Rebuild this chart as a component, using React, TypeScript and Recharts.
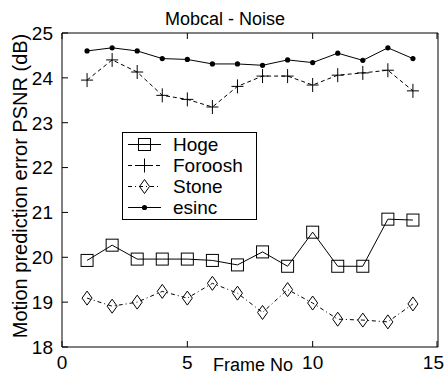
import { LineChart, Line, XAxis, YAxis, Legend } from 'recharts';

const frames = [1, 2, 3, 4, 5, 6, 7, 8, 9, 10, 11, 12, 13, 14];
const hoge = [19.93, 20.27, 19.96, 19.96, 19.96, 19.93, 19.83, 20.12, 19.8, 20.56, 19.8, 19.8, 20.85, 20.83];
const foroosh = [23.95, 24.4, 24.13, 23.61, 23.52, 23.35, 23.81, 24.04, 24.04, 23.84, 24.06, 24.11, 24.17, 23.71];
const stone = [19.09, 18.91, 19.0, 19.24, 19.09, 19.42, 19.2, 18.77, 19.28, 18.98, 18.62, 18.6, 18.56, 18.96];
const esinc = [24.6, 24.67, 24.6, 24.43, 24.41, 24.31, 24.31, 24.28, 24.4, 24.34, 24.55, 24.39, 24.67, 24.43];

const xTicks = [0, 5, 10, 15];
const yTicks = [18, 19, 20, 21, 22, 23, 24, 25];
const seriesNames = ['Hoge', 'Foroosh', 'Stone', 'esinc'];

const data = frames.map((f, i) => ({
  frame: f,
  hoge: hoge[i],
  foroosh: foroosh[i],
  stone: stone[i],
  esinc: esinc[i],
}));

const FONT = '"Liberation Sans", Arial, sans-serif';
const TICK_LEN = 6;
const CHART_W = 445;

const square = (cx: number, cy: number) => (
  <rect x={cx - 6} y={cy - 6} width={12} height={12} fill="none" stroke="#000" strokeWidth={1} />
);
const plus = (cx: number, cy: number) => (
  <path d={`M${cx - 6},${cy}H${cx + 6}M${cx},${cy - 7}V${cy + 7}`} stroke="#000" strokeWidth={1} fill="none" />
);
const diamond = (cx: number, cy: number) => (
  <path d={`M${cx},${cy - 7}L${cx + 5},${cy}L${cx},${cy + 7}L${cx - 5},${cy}Z`} stroke="#000" strokeWidth={1} fill="none" />
);
const dot = (cx: number, cy: number) => <circle cx={cx} cy={cy} r={2.6} fill="#000" stroke="none" />;

const markers = [square, plus, diamond, dot];
const dashes = [undefined, '4 3', '4 3 1 3', undefined];

const markerDot = (fn: (cx: number, cy: number) => any) => (props: any) => {
  const { cx, cy, key } = props;
  if (cx == null || cy == null) return <g key={key} />;
  return <g key={key}>{fn(cx, cy)}</g>;
};

const LeftTick = (props: any) => {
  const { x, y, payload } = props;
  return (
    <g>
      <line x1={x + 9} x2={x + 9 + TICK_LEN} y1={y} y2={y} stroke="#000" />
      <text x={x} y={y} dy="0.36em" textAnchor="end" fontSize={19} fontFamily={FONT} fill="#000">
        {payload.value}
      </text>
    </g>
  );
};

const RightTick = (props: any) => {
  const { x, y } = props;
  return <line x1={x} x2={x - TICK_LEN} y1={y} y2={y} stroke="#000" />;
};

const BottomTick = (props: any) => {
  const { x, y, payload } = props;
  // keep the last label inside the picture
  const tooWide = x + 11 > CHART_W - 1;
  return (
    <g>
      <line x1={x} x2={x} y1={y - 3} y2={y - 3 - TICK_LEN} stroke="#000" />
      <text
        x={tooWide ? CHART_W - 1 : x}
        y={y + 19}
        textAnchor={tooWide ? 'end' : 'middle'}
        fontSize={19}
        fontFamily={FONT}
        fill="#000"
      >
        {payload.value}
      </text>
    </g>
  );
};

const TopTick = (props: any) => {
  const { x, y } = props;
  return <line x1={x} x2={x} y1={y} y2={y + TICK_LEN} stroke="#000" />;
};

const LegendBox = () => (
  <div
    style={{
      width: 133,
      height: 85,
      border: '1px solid #000',
      background: '#fff',
      fontFamily: FONT,
      fontSize: 19,
      boxSizing: 'content-box',
      paddingTop: 1,
    }}
  >
    {seriesNames.map((name, i) => (
      <div key={name} style={{ display: 'flex', alignItems: 'center', height: 21 }}>
        <svg width={48} height={21} style={{ display: 'block' }}>
          <line x1={5} x2={38} y1={10.5} y2={10.5} stroke="#000" strokeDasharray={dashes[i]} />
          {markers[i](21.5, 10.5)}
        </svg>
        <span style={{ marginLeft: 2, lineHeight: '21px' }}>{name}</span>
      </div>
    ))}
  </div>
);

export default function App() {
  const keys = ['hoge', 'foroosh', 'stone', 'esinc'];
  return (
    <div style={{ position: 'absolute', left: 0, top: 0, background: '#fff' }}>
      <LineChart width={CHART_W} height={376} data={data} margin={{ top: 0, right: 0, bottom: 0, left: 0 }}>
        <XAxis
          dataKey="frame"
          type="number"
          domain={[0, 15]}
          ticks={xTicks}
          height={29}
          tickSize={0}
          tickMargin={3}
          tick={<BottomTick />}
          axisLine={{ stroke: '#000' }}
          tickLine={false}
          label={(p: any) => {
            const vb = p.viewBox;
            return (
              <text x={vb.x + vb.width / 2 + 3} y={371} textAnchor="middle" fontSize={18} fontFamily={FONT} fill="#000">
                Frame No
              </text>
            );
          }}
        />
        <XAxis
          xAxisId="t"
          orientation="top"
          dataKey="frame"
          type="number"
          domain={[0, 15]}
          ticks={xTicks}
          height={33}
          tickSize={0}
          tickMargin={0}
          tick={<TopTick />}
          axisLine={{ stroke: '#000' }}
          tickLine={false}
          label={(p: any) => {
            const vb = p.viewBox;
            return (
              <text x={vb.x + vb.width / 2 - 25} y={25} textAnchor="middle" fontSize={18} fontFamily={FONT} fill="#000">
                Mobcal - Noise
              </text>
            );
          }}
        />
        <YAxis
          type="number"
          domain={[18, 25]}
          ticks={yTicks}
          width={62}
          tickSize={0}
          tickMargin={9}
          tick={<LeftTick />}
          axisLine={{ stroke: '#000' }}
          tickLine={false}
          label={() => {
            const cy = 186;
            return (
              <text
                x={27}
                y={cy}
                transform={`rotate(-90, 27, ${cy})`}
                textAnchor="middle"
                fontSize={20}
                fontFamily={FONT}
                fill="#000"
              >
                Motion prediction error PSNR (dB)
              </text>
            );
          }}
        />
        <YAxis
          yAxisId="r"
          orientation="right"
          type="number"
          domain={[18, 25]}
          ticks={yTicks}
          width={7}
          tickSize={0}
          tickMargin={0}
          tick={<RightTick />}
          axisLine={{ stroke: '#000' }}
          tickLine={false}
        />
        <Legend
          layout="vertical"
          align="center"
          verticalAlign="middle"
          wrapperStyle={{ left: 122, top: 132, width: 135 }}
          content={() => <LegendBox />}
        />
        {keys.map((k, i) => (
          <Line
            key={k}
            dataKey={k}
            name={seriesNames[i]}
            stroke="#000"
            strokeWidth={1}
            strokeDasharray={dashes[i]}
            dot={markerDot(markers[i])}
            activeDot={false}
            isAnimationActive={false}
          />
        ))}
      </LineChart>
    </div>
  );
}
